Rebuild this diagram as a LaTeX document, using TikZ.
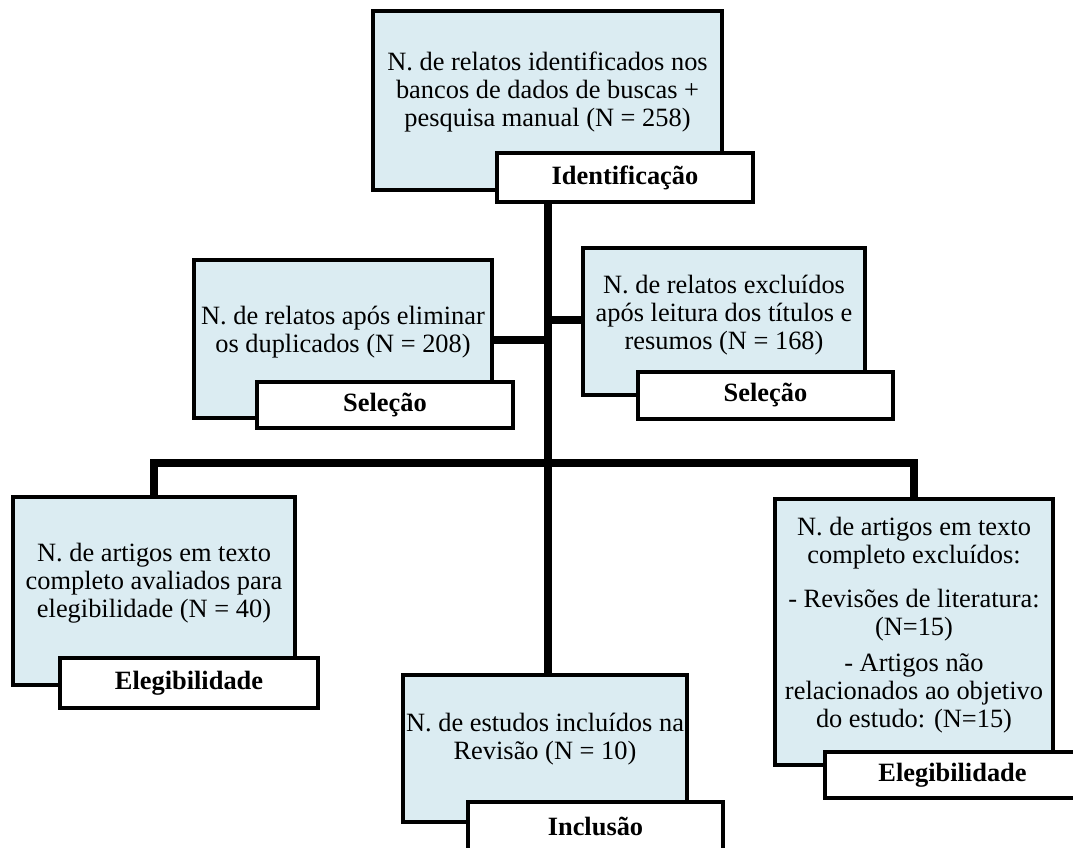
\documentclass[tikz,border=0pt]{standalone}
\usepackage{fontspec}
\setmainfont{Liberation Serif}
\definecolor{stageblue}{RGB}{219,236,242}

\begin{document}
\begin{tikzpicture}[
                x=0.75pt, y=-0.75pt,
                stagebox/.style={draw=black, line width=3pt, fill=stageblue, inner sep=0pt},
                tagbox/.style={draw=black, line width=3pt, fill=white, inner sep=0pt,
                    font=\fontsize{19.8}{21}\selectfont\bfseries},
                stagetext/.style={align=center, inner sep=0pt,
                    font=\fontsize{19.8}{21}\selectfont},
                flowlink/.style={draw=black, line width=5.5pt},
                boxsize/.style 2 args={minimum width=#1*0.75pt, minimum height=#2*0.75pt}]
        \useasboundingbox (0,0) rectangle (1073,847);

        % Stage boxes, text sits above the tag that overlaps each box.
        \node[stagebox, boxsize={349}{179}] (found) at (547.5,100.5) {};
        \node[stagetext] (foundtext) at (547.5,92) {N. de relatos identificados nos\\bancos de dados de buscas +\\pesquisa manual (N = 258)};

        \node[stagebox, boxsize={298}{158}] (dup) at (343,339) {};
        \node[stagetext] (duptext) at (343,332.5) {N. de relatos após eliminar\\os duplicados (N = 208)};

        \node[stagebox, boxsize={282}{147}] (screen) at (724,321.5) {};
        \node[stagetext] (screentext) at (724,315) {N. de relatos excluídos\\após leitura dos títulos e\\resumos (N = 168)};

        \node[stagebox, boxsize={282}{188}] (elig) at (154,591) {};
        \node[stagetext] (eligtext) at (154,583) {N. de artigos em texto\\completo avaliados para\\elegibilidade (N = 40)};

        \node[stagebox, boxsize={278}{266}] (drop) at (914,632) {};
        \node[stagetext] (droptext) at (914,625) {N. de artigos em texto\\completo excluídos:\\[12pt]- Revisões de literatura:\\(N=15)\\[6pt]- Artigos não\\relacionados ao objetivo\\do estudo: (N=15)};

        \node[stagebox, boxsize={284}{147}] (incl) at (545,748.5) {};
        \node[stagetext] (incltext) at (545,739.5) {N. de estudos incluídos na\\Revisão (N = 10)};

        % Spine and branch points.
        \coordinate (spine) at (548,0);
        \coordinate (dupjoin) at (548,340);
        \coordinate (screenjoin) at (548,320);
        \coordinate (fork) at (548,463);

        % Phase tags.
        \node[tagbox, boxsize={256}{49}] (foundtag) at (625,177.5) {Identificação};
        \node[tagbox, boxsize={256}{46}] (duptag) at (385,405) {Seleção};
        \node[tagbox, boxsize={255}{47}] (screentag) at (765.5,395.5) {Seleção};
        \node[tagbox, boxsize={258}{50}] (eligtag) at (189,683) {Elegibilidade};
        \node[tagbox, boxsize={255}{46}] (droptag) at (952.5,775) {Elegibilidade};
        \node[tagbox, boxsize={255}{48}] (incltag) at (595.5,826) {Inclusão};

        % Connectors.
        \draw[flowlink] (foundtag.south -| spine) -- (incl.north -| spine);
        \draw[flowlink] (dup.east |- dupjoin) -- (dupjoin);
        \draw[flowlink] (screenjoin) -- (screenjoin -| screen.west);
        \draw[flowlink] (elig.north) -- (elig.north |- fork) -- (drop.north |- fork) -- (drop.north);
\end{tikzpicture}
\end{document}
